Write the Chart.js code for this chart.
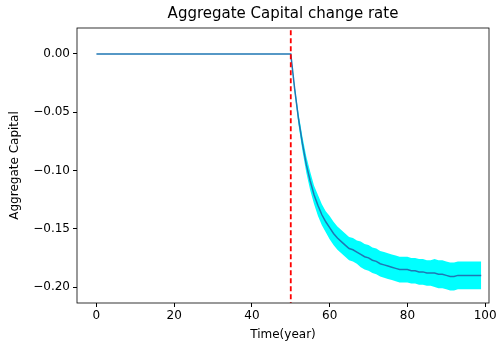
<!DOCTYPE html>
<html>
<head>
<meta charset="utf-8">
<script src="https://cdn.jsdelivr.net/npm/chart.js@4.4.1/dist/chart.umd.min.js"></script>
<style>
  html, body { margin: 0; padding: 0; background: #fff; }
  #wrap { width: 500px; height: 352px; }
</style>
</head>
<body>
<div id="wrap"><canvas id="chart"></canvas></div>
<script>
// years 0..99
const years = [];
for (let i = 0; i < 100; i++) years.push(i);

// mean aggregate capital change (flat at 0 until year 50)
const meanBefore = new Array(50).fill(0);
const meanAfter = [
  0, -0.030, -0.056, -0.077, -0.095, -0.109, -0.121, -0.130, -0.138, -0.144,
  -0.149, -0.154, -0.158, -0.161, -0.164, -0.167, -0.168, -0.170, -0.172, -0.174,
  -0.175, -0.177, -0.178, -0.180, -0.181, -0.182, -0.183, -0.184, -0.185, -0.185,
  -0.185, -0.186, -0.186, -0.187, -0.187, -0.188, -0.188, -0.188, -0.189, -0.189,
  -0.190, -0.191, -0.191, -0.190, -0.190, -0.190, -0.190, -0.190, -0.190, -0.190
];
const meanValues = meanBefore.concat(meanAfter);

// half width of the cyan band
const spreadBefore = new Array(50).fill(0);
const spreadAfter = [
  0, 0.003, 0.005, 0.006, 0.007, 0.008, 0.008, 0.009, 0.009, 0.009,
  0.010, 0.010, 0.010, 0.010, 0.010, 0.010, 0.010, 0.010, 0.011, 0.011,
  0.011, 0.011, 0.011, 0.011, 0.011, 0.011, 0.011, 0.011, 0.011, 0.011,
  0.011, 0.011, 0.011, 0.011, 0.011, 0.011, 0.011, 0.012, 0.012, 0.012,
  0.012, 0.012, 0.012, 0.012, 0.012, 0.012, 0.012, 0.012, 0.012, 0.012
];
const spreadValues = spreadBefore.concat(spreadAfter);

const shockYear = 50;
const xTicks = [0, 20, 40, 60, 80, 100];
const yTicks = [0, -0.05, -0.10, -0.15, -0.20];

const upper = years.map((t, i) => ({ x: t, y: meanValues[i] + spreadValues[i] }));
const lower = years.map((t, i) => ({ x: t, y: meanValues[i] - spreadValues[i] }));
const mean = years.map((t, i) => ({ x: t, y: meanValues[i] }));

const fontFamily = "'DejaVu Sans', sans-serif";

// full box around the plot like matplotlib spines, title centred on the axes
const frame = {
  id: 'frame',
  afterLayout(chart) {
    if (chart.titleBlock) {
      chart.titleBlock.left = chart.chartArea.left;
      chart.titleBlock.right = chart.chartArea.right;
    }
  },
  afterDatasetsDraw(chart) {
    const a = chart.chartArea;
    const ctx = chart.ctx;
    ctx.save();
    ctx.strokeStyle = '#000';
    ctx.lineWidth = 0.8;
    ctx.strokeRect(a.left, a.top, a.right - a.left, a.bottom - a.top);
    ctx.restore();
  }
};

new Chart(document.getElementById('chart'), {
  type: 'line',
  data: {
    datasets: [
      {
        label: 'upper',
        data: upper,
        borderWidth: 0,
        pointRadius: 0,
        backgroundColor: '#00ffff',
        fill: '+1',
        order: 3
      },
      {
        label: 'lower',
        data: lower,
        borderWidth: 0,
        pointRadius: 0,
        fill: false,
        order: 3
      },
      {
        label: 'mean',
        data: mean,
        borderColor: '#1f77b4',
        borderWidth: 1.5,
        pointRadius: 0,
        fill: false,
        order: 2
      },
      {
        label: 'shock',
        data: [{ x: shockYear, y: -1 }, { x: shockYear, y: 1 }],
        borderColor: '#ff0000',
        borderWidth: 1.8,
        borderDash: [5, 3],
        pointRadius: 0,
        fill: false,
        order: 1
      }
    ]
  },
  options: {
    responsive: true,
    maintainAspectRatio: false,
    animation: false,
    layout: { padding: { left: 0, right: 11, top: 0, bottom: 0 } },
    plugins: {
      legend: { display: false },
      tooltip: { enabled: false },
      title: {
        display: true,
        text: 'Aggregate Capital change rate',
        color: '#000',
        font: { family: fontFamily, size: 15, weight: 'normal', lineHeight: 1.2 },
        padding: { top: 5, bottom: 5 }
      }
    },
    scales: {
      x: {
        type: 'linear',
        min: -5,
        max: 101,
        afterBuildTicks: axis => { axis.ticks = xTicks.map(v => ({ value: v })); },
        afterFit: axis => { axis.height = 49; },
        grid: { display: true, drawOnChartArea: false, drawTicks: true, tickLength: 4, color: '#000' },
        border: { display: false },
        ticks: {
          color: '#000',
          padding: 2,
          maxRotation: 0,
          font: { family: fontFamily, size: 12 },
          callback: v => String(v)
        },
        title: {
          display: true,
          text: 'Time(year)',
          color: '#000',
          font: { family: fontFamily, size: 12 },
          padding: { top: 0, bottom: 10 }
        }
      },
      y: {
        type: 'linear',
        min: -0.2137,
        max: 0.0223,
        afterBuildTicks: axis => { axis.ticks = yTicks.map(v => ({ value: v })); },
        afterFit: axis => { axis.width = 77; },
        grid: { display: true, drawOnChartArea: false, drawTicks: true, tickLength: 4, color: '#000' },
        border: { display: false },
        ticks: {
          color: '#000',
          padding: 3,
          font: { family: fontFamily, size: 12 },
          callback: v => (v < 0 ? '\u2212' : '') + Math.abs(v).toFixed(2)
        },
        title: {
          display: true,
          text: 'Aggregate Capital',
          color: '#000',
          font: { family: fontFamily, size: 12 },
          padding: { top: 8, bottom: 0 }
        }
      }
    }
  },
  plugins: [frame]
});
</script>
</body>
</html>
